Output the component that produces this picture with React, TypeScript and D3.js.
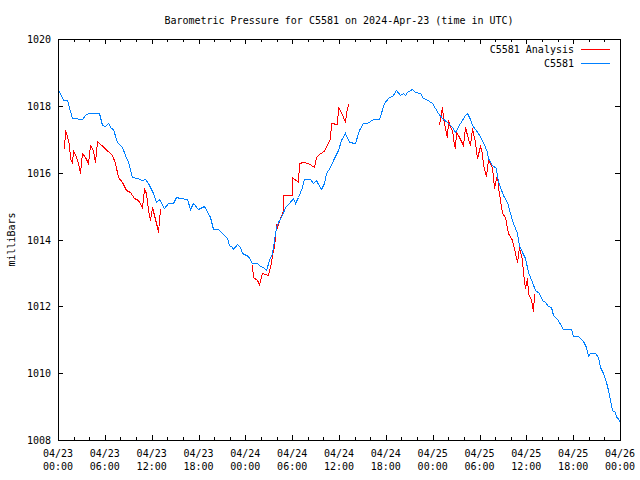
import React from "react";
import * as d3 from "d3";

// Hours since 2024-04-23 00:00 UTC
const xTickHours = [0, 6, 12, 18, 24, 30, 36, 42, 48, 54, 60, 66, 72];
const xTickDates = ["04/23", "04/23", "04/23", "04/23", "04/24", "04/24", "04/24", "04/24", "04/25", "04/25", "04/25", "04/25", "04/26"];
const xTickTimes = ["00:00", "06:00", "12:00", "18:00", "00:00", "06:00", "12:00", "18:00", "00:00", "06:00", "12:00", "18:00", "00:00"];
const yTicks = [1008, 1010, 1012, 1014, 1016, 1018, 1020];

const stationHours = [
  0.13, 0.68, 1.11, 1.79, 3.07, 3.46, 3.84, 5.29, 5.64, 6.02, 6.37, 6.75, 7.05, 7.52, 8.16, 8.58, 8.97, 9.48,
  10.08, 10.72, 11.15, 11.53, 12.17, 12.56, 12.94, 13.58, 14.09, 14.73, 15.08, 15.63, 16.49, 16.91, 17.3, 17.94,
  18.7, 19.47, 19.82, 20.5, 20.97, 21.61, 21.91, 22.25, 22.42, 22.89, 23.32, 23.53, 24.38, 24.82, 25.46, 25.88,
  26.3, 26.65, 27.07, 27.38, 27.67, 27.93, 28.22, 28.66, 29.08, 29.63, 30.14, 30.36, 30.79, 31.22, 31.52, 32.28,
  32.63, 33.05, 33.35, 33.66, 34.08, 34.33, 34.85, 35.27, 35.91, 36.26, 36.77, 37.28, 38.05, 38.6, 39.04, 39.55,
  40.32, 41.16, 41.77, 42.32, 42.96, 43.3, 43.81, 44.16, 44.46, 44.75, 45.31, 45.74, 46.38, 46.72, 47.15, 47.88,
  48.3, 48.72, 49.16, 49.8, 50.44, 50.86, 51.5, 52.14, 52.44, 52.78, 53.0, 53.42, 53.85, 54.28, 54.7, 55.0,
  55.13, 55.56, 56.11, 56.28, 56.63, 57.05, 57.48, 57.91, 58.33, 58.77, 59.1, 59.41, 59.83, 60.25, 60.69, 61.11,
  61.66, 61.97, 62.39, 62.81, 63.12, 63.45, 63.89, 64.22, 64.66, 65.68, 66.02, 66.66, 66.97, 67.3, 67.64, 67.94,
  68.15, 68.8, 69.22, 69.44, 69.86, 70.21, 70.5, 70.72, 70.94, 71.36, 71.49, 71.78, 72.0,
];
const stationValues = [
  1018.44, 1018.17, 1018.17, 1017.64, 1017.61, 1017.73, 1017.79, 1017.79, 1017.43, 1017.4, 1017.49, 1017.34, 1017.31, 1016.93, 1016.78, 1016.53, 1016.32, 1015.87,
  1015.84, 1015.78, 1015.81, 1015.69, 1015.39, 1015.12, 1015.21, 1014.94, 1015.09, 1015.09, 1015.28, 1015.24, 1015.21, 1014.91, 1015.09, 1014.91,
  1015.0, 1014.67, 1014.31, 1014.31, 1014.19, 1014.04, 1013.84, 1013.78, 1013.72, 1013.87, 1013.78, 1013.61, 1013.51, 1013.3, 1013.31, 1013.21,
  1013.19, 1013.09, 1013.39, 1013.6, 1013.99, 1014.38, 1014.53, 1014.73, 1014.98, 1015.08, 1015.23, 1015.09, 1015.28, 1015.58, 1015.81, 1015.81,
  1015.69, 1015.78, 1015.66, 1015.51, 1015.68, 1015.99, 1016.18, 1016.38, 1016.68, 1016.98, 1017.19, 1016.93, 1016.9, 1017.28, 1017.48, 1017.48,
  1017.6, 1017.6, 1018.08, 1018.23, 1018.32, 1018.47, 1018.32, 1018.39, 1018.32, 1018.42, 1018.49, 1018.42, 1018.38, 1018.23, 1018.2, 1018.09,
  1017.93, 1017.78, 1017.63, 1017.53, 1017.38, 1017.23, 1017.48, 1017.73, 1017.78, 1017.6, 1017.43, 1017.3, 1017.18, 1016.98, 1016.78, 1016.63,
  1016.43, 1016.23, 1016.13, 1015.88, 1015.58, 1015.33, 1015.13, 1014.78, 1014.48, 1014.19, 1013.84, 1013.64, 1013.44, 1013.04, 1012.74, 1012.49,
  1012.39, 1012.19, 1012.14, 1012.01, 1011.99, 1011.74, 1011.61, 1011.54, 1011.31, 1011.31, 1011.11, 1011.11, 1011.01, 1010.97, 1010.79, 1010.51,
  1010.59, 1010.59, 1010.49, 1010.19, 1010.0, 1009.74, 1009.5, 1009.2, 1008.9, 1008.85, 1008.7, 1008.65, 1008.5,
];

// Analysis series, null marks a gap
const analysisHours = [
  0.77, 0.9, 1.11, 1.37, 1.54, 1.76, 1.96, 2.27, 2.52, 2.82, 3.04, 3.46, 3.88, 4.1, 4.45, 4.74, 4.96, 6.88,
  7.3, 7.73, 8.16, 8.71, 9.22, 9.78, 10.29, 10.72, 11.02, 11.27, 11.57, 11.79, 12.0, 12.3, 12.64, 12.85, 13.07,
  18.0,
  24.9, 24.95, 25.46, 25.79, 26.1, 26.94, 27.16, 27.51, 27.71, 27.89, 28.02, 28.86, 28.87, 29.94, 29.95, 30.79,
  30.88, 31.43, 32.07, 32.8, 33.05, 33.57, 33.99, 34.42, 34.85, 34.94, 35.71, 35.91, 36.26, 36.77, 36.86, 37.11,
  42.0,
  48.85, 49.03, 49.16, 49.28, 49.45, 49.67, 49.8, 50.0, 50.22, 50.51, 50.73, 50.86, 50.99, 51.28, 51.93, 52.14,
  52.36, 52.78, 53.08, 53.42, 53.72, 54.06, 54.28, 54.49, 54.83, 55.13, 55.56, 55.86, 56.2, 56.41, 56.63, 56.85,
  57.27, 57.69, 58.13, 58.55, 58.84, 59.06, 59.41, 59.61, 59.83, 60.12, 60.25, 60.56, 60.82, 61.02,
];
const analysisValues: (number | null)[] = [
  1016.7, 1017.28, 1017.1, 1016.83, 1016.44, 1016.28, 1016.68, 1016.48, 1016.28, 1015.98, 1016.6, 1016.48, 1016.28, 1016.83, 1016.68, 1016.33, 1016.96, 1016.53,
  1016.28, 1015.88, 1015.73, 1015.48, 1015.43, 1015.23, 1015.18, 1014.98, 1015.5, 1015.38, 1014.88, 1014.58, 1014.98, 1014.73, 1014.38, 1014.23, 1014.9,
  null,
  1013.24, 1012.88, 1012.79, 1012.67, 1012.99, 1012.94, 1013.19, 1013.69, 1013.78, 1014.43, 1014.38, 1014.88, 1015.33, 1015.33, 1015.88, 1015.73,
  1016.28, 1016.33, 1016.3, 1016.16, 1016.48, 1016.58, 1016.63, 1016.83, 1017.03, 1017.48, 1017.45, 1017.97, 1017.82, 1017.53, 1017.78, 1018.06,
  null,
  1017.43, 1017.82, 1017.96, 1017.67, 1017.48, 1017.18, 1017.08, 1017.58, 1017.38, 1017.28, 1016.83, 1016.73, 1017.23, 1017.13, 1016.83, 1017.38,
  1017.13, 1016.83, 1017.33, 1016.93, 1016.43, 1016.8, 1016.58, 1016.23, 1015.9, 1016.38, 1016.18, 1015.53, 1015.95, 1015.58, 1015.18, 1014.78,
  1014.68, 1014.19, 1013.98, 1013.59, 1013.34, 1013.78, 1013.39, 1013.04, 1012.54, 1012.84, 1012.39, 1012.19, 1011.86, 1012.37,
];

const seriesNames = ["C5581 Analysis", "C5581"];
const seriesColors = ["#ff0000", "#0080ff"];

const W = 640;
const H = 480;
const M = { left: 58, right: 620, top: 39, bottom: 440 };
const FONT = "'DejaVu Sans Mono', 'Liberation Mono', monospace";

export default function App() {
  const x = d3.scaleLinear().domain([0, 72]).range([M.left, M.right]);
  const y = d3.scaleLinear().domain([1008, 1020]).range([M.bottom, M.top]);

  const station = stationHours.map((h, i) => [h, stationValues[i]] as [number, number | null]);
  const analysis = analysisHours.map((h, i) => [h, analysisValues[i]] as [number, number | null]);

  const line = d3
    .line<[number, number | null]>()
    .defined((d) => d[1] !== null)
    .x((d) => Math.round(x(d[0])) + 0.5)
    .y((d) => Math.round(y(d[1] as number)) + 0.5);

  const minorTicks = d3.range(0, 73, 2).filter((h) => h % 6 !== 0);
  const px = (v: number) => Math.round(v) + 0.5;

  return (
    <svg
      width={W}
      height={H}
      style={{ position: "absolute", left: 0, top: 0, background: "#fff" }}
      fontFamily={FONT}
      fontSize={10}
    >
      <rect x={0} y={0} width={W} height={H} fill="#fff" />
      {/* title */}
      <text x={(M.left + M.right) / 2} y={24} textAnchor="middle" fill="#000">
        Barometric Pressure for C5581 on 2024-Apr-23 (time in UTC)
      </text>
      {/* y label */}
      <text transform={`translate(15,${(M.top + M.bottom) / 2}) rotate(-90)`} textAnchor="middle" fill="#000">
        milliBars
      </text>

      {/* y ticks */}
      {yTicks.map((v) => (
        <g key={"y" + v}>
          <line x1={M.left} x2={M.left + 5} y1={px(y(v))} y2={px(y(v))} stroke="#000" />
          <line x1={M.right - 5} x2={M.right} y1={px(y(v))} y2={px(y(v))} stroke="#000" />
          <text x={51} y={y(v) + 4} textAnchor="end" fill="#000">
            {v}
          </text>
        </g>
      ))}

      {/* x major ticks */}
      {xTickHours.map((h, i) => (
        <g key={"x" + h}>
          <line x1={px(x(h))} x2={px(x(h))} y1={M.bottom} y2={M.bottom - 5} stroke="#000" />
          <line x1={px(x(h))} x2={px(x(h))} y1={M.top} y2={M.top + 5} stroke="#000" />
          <text x={x(h)} y={457} textAnchor="middle" fill="#000">
            {xTickDates[i]}
          </text>
          <text x={x(h)} y={470} textAnchor="middle" fill="#000">
            {xTickTimes[i]}
          </text>
        </g>
      ))}
      {minorTicks.map((h) => (
        <g key={"m" + h}>
          <line x1={px(x(h))} x2={px(x(h))} y1={M.bottom} y2={M.bottom - 3} stroke="#000" />
          <line x1={px(x(h))} x2={px(x(h))} y1={M.top} y2={M.top + 3} stroke="#000" />
        </g>
      ))}

      {/* data */}
      <path d={line(analysis) || ""} fill="none" stroke={seriesColors[0]} strokeWidth={1} shapeRendering="crispEdges" />
      <path d={line(station) || ""} fill="none" stroke={seriesColors[1]} strokeWidth={1} shapeRendering="crispEdges" />

      {/* frame */}
      <rect
        x={M.left + 0.5}
        y={M.top + 0.5}
        width={M.right - M.left}
        height={M.bottom - M.top}
        fill="none"
        stroke="#000"
        shapeRendering="crispEdges"
      />

      {/* legend */}
      {seriesNames.map((name, i) => (
        <g key={name}>
          <text x={574} y={53 + i * 14} textAnchor="end" fill="#000">
            {name}
          </text>
          <rect x={581} y={49 + i * 14} width={29} height={1} fill={seriesColors[i]} />
        </g>
      ))}
    </svg>
  );
}
